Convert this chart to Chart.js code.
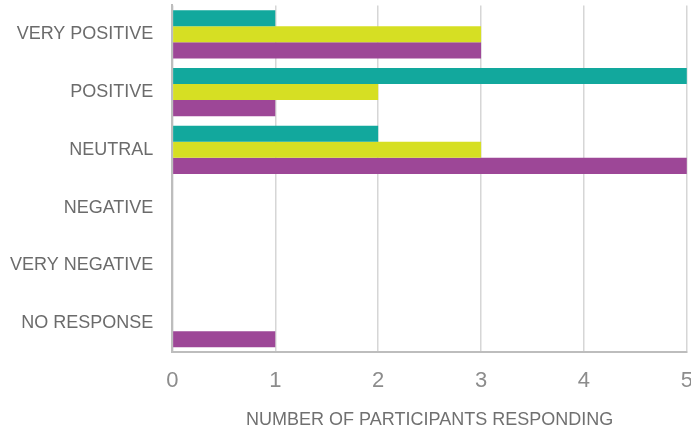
<!DOCTYPE html>
<html>
<head>
<meta charset="utf-8">
<script src="https://cdn.jsdelivr.net/npm/chart.js@4.4.1/dist/chart.umd.min.js"></script>
<style>
    html, body { margin: 0; padding: 0; background: #fff; overflow: hidden; }
    #wrap { width: 691px; height: 430px; overflow: hidden; }
    #box { width: 693px; height: 430px; }
</style>
</head>
<body>
<div id="wrap"><div id="box"><canvas id="responseChart"></canvas></div></div>
<script>
// categories, top to bottom
const categories = ['VERY POSITIVE', 'POSITIVE', 'NEUTRAL', 'NEGATIVE', 'VERY NEGATIVE', 'NO RESPONSE'];

// series values (participants per answer)
const seriesTeal   = [1, 5, 2, 0, 0, 0];
const seriesYellow = [3, 2, 3, 0, 0, 0];
const seriesPurple = [3, 1, 5, 0, 0, 1];

const xTicks = [0, 1, 2, 3, 4, 5];

const ctx = document.getElementById('responseChart');
new Chart(ctx, {
    type: 'bar',
    data: {
        labels: categories,
        datasets: [
            { label: 'Series 1', data: seriesTeal, backgroundColor: '#12a89d' },
            { label: 'Series 2', data: seriesYellow, backgroundColor: '#d6df23' },
            { label: 'Series 3', data: seriesPurple, backgroundColor: '#9d4797' }
        ]
    },
    options: {
        indexAxis: 'y',
        responsive: true, maintainAspectRatio: false,
        animation: false,
        layout: { padding: { top: 0, left: 10, right: 0, bottom: 0 } },
        datasets: { bar: { categoryPercentage: 0.835, barPercentage: 1.0, borderWidth: 0 } },
        plugins: {
            legend: { display: false },
            tooltip: { enabled: false }
        },
        scales: {
            x: {
                min: xTicks[0], max: xTicks[xTicks.length - 1],
                afterBuildTicks: s => { s.ticks = xTicks.map(v => ({ value: v })); },
                // invisible tick marks give the gap below the axis without extra side padding
                grid: { color: '#d6d6d6', lineWidth: 1.5, drawTicks: true, tickLength: 16, tickColor: 'rgba(0,0,0,0)' },
                border: { display: true, color: '#bdbdbd', width: 2 },
                ticks: { padding: 0, color: '#8c8c8c', font: { family: 'Liberation Sans', size: 22 } },
                title: {
                    display: true,
                    text: 'NUMBER OF PARTICIPANTS RESPONDING',
                    color: '#707070',
                    font: { family: 'Liberation Sans', size: 18, lineHeight: 1.1 },
                    padding: { top: 15.8, bottom: 0 }
                }
            },
            y: {
                grid: { drawOnChartArea: false, drawTicks: true, tickLength: 19, tickColor: 'rgba(0,0,0,0)' },
                border: { display: true, color: '#bdbdbd', width: 2 },
                ticks: { padding: 0, color: '#6b6b6b', font: { family: 'Liberation Sans', size: 18, lineHeight: 0.6 } }
            }
        }
    }
});
</script>
</body>
</html>
